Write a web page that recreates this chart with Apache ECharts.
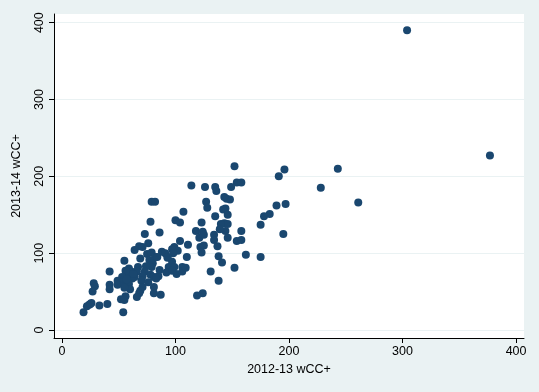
<!DOCTYPE html>
<html><head><meta charset="utf-8">
<script src="https://cdn.jsdelivr.net/npm/echarts@6/dist/echarts.min.js"></script>
<style>html,body{margin:0;padding:0;background:#EAF2F3;}#c{width:539px;height:392px;}</style>
</head><body><div id="c"></div>
<script>
const xName = '2012-13 wCC+';
const yName = '2013-14 wCC+';
const tickValues = [0, 100, 200, 300, 400];
const wcc1213 = [304,377,243,228,261,196,191,197,189,183,178,175,195,175,162,152,152,154,158,149,148,145,143,144,142,146,143,146,144,146,158,154,158,140,139,135,136,135,134,134,137,138,141,131,138,126,127,128,114,123,118,121,124,125,122,125,123,111,110,107,100,104,104,99,102,97,98,88,91,86,79,82,78,73,76,68,71,64,75,79,82,77,80,79,69,74,67,66,73,71,78,81,85,83,70,71,69,68,66,81,81,87,61,59,58,62,64,55,56,53,49,53,49,55,59,60,55,56,52,55,54,42,42,42,40,33,28,29,27,26,24,19,93,94,92,97,99,97,101,106,106,109,119,124,93,84,22,25,63,57,76,86];
const wcc1314 = [390,227,210,185,166,209,200,164,162,151,148,137,125,95,98,81,213,192,192,186,170,171,173,158,157,150,139,138,129,120,129,116,117,138,131,186,181,148,124,117,109,96,88,76,64,186,167,159,188,140,129,120,128,124,108,110,101,111,95,154,143,140,116,108,103,105,100,102,100,127,167,167,141,125,113,109,108,104,99,101,95,91,87,82,93,83,82,76,76,70,72,69,70,67,64,56,51,48,43,56,48,46,76,80,70,67,69,90,77,69,64,62,59,58,60,53,55,44,40,39,23,76,59,53,34,32,61,57,50,35,33,23,94,82,75,89,82,77,73,82,76,81,45,48,95,95,31,34,73,66,62,78];

const pts = wcc1213.map((v, i) => [v, wcc1314[i]]);
const font = 'Liberation Sans, Arial, Helvetica, sans-serif';
const chart = echarts.init(document.getElementById('c'));
chart.setOption({
  backgroundColor: '#EAF2F3',
  animation: false,
  grid: {left: 54, right: 15, top: 14, bottom: 54, show: true, backgroundColor: '#ffffff', borderWidth: 0},
  xAxis: {
    type: 'value', min: -7, max: 407,
    name: xName, nameLocation: 'middle', nameGap: 24,
    nameTextStyle: {color: '#000', fontSize: 12.5, fontFamily: font},
    axisLine: {show: true, onZero: false, lineStyle: {color: '#000', width: 1}},
    axisTick: {show: true, length: 5, lineStyle: {color: '#000'}, customValues: tickValues},
    axisLabel: {color: '#000', fontSize: 12.5, fontFamily: font, margin: 7, customValues: tickValues},
    splitLine: {show: false}
  },
  yAxis: {
    type: 'value', min: -10.4, max: 411.3,
    name: yName, nameLocation: 'middle', nameGap: 31, nameRotate: 90,
    nameTextStyle: {color: '#000', fontSize: 12.5, fontFamily: font},
    axisLine: {show: true, onZero: false, lineStyle: {color: '#000', width: 1}},
    axisTick: {show: true, length: 5, lineStyle: {color: '#000'}, customValues: tickValues},
    axisLabel: {color: '#000', fontSize: 12.5, fontFamily: font, rotate: 90, margin: 8, customValues: tickValues},
    splitLine: {show: true, lineStyle: {color: '#EAF2F3', width: 1}}
  },
  series: [{
    type: 'scatter', data: pts, symbolSize: 8,
    itemStyle: {color: '#1A476F', opacity: 1}
  }]
});
</script></body></html>
